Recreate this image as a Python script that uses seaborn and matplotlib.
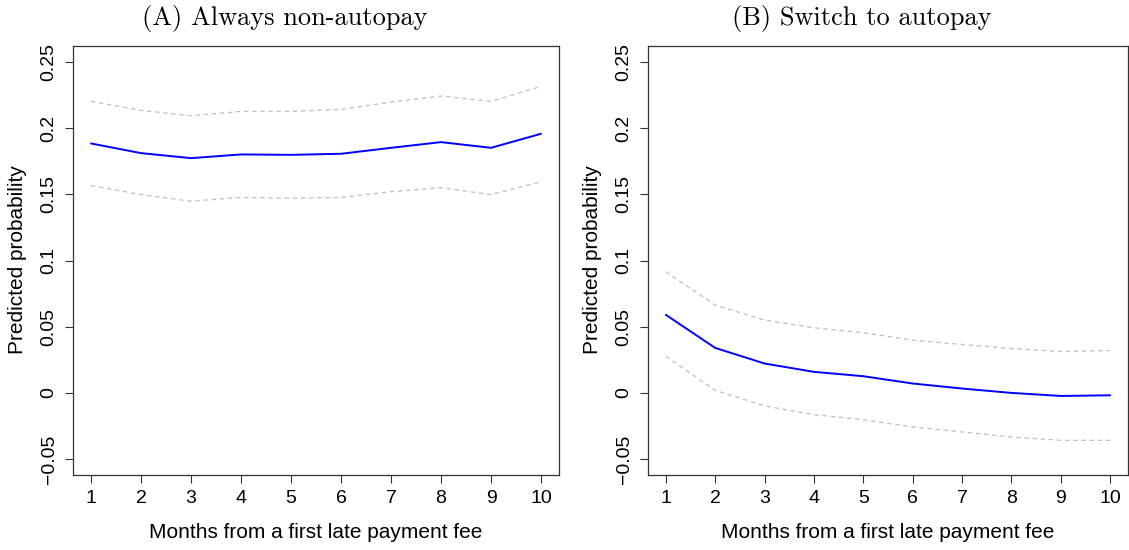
import numpy as np
import pandas as pd
import matplotlib
matplotlib.use("Agg")
import matplotlib.pyplot as plt
import seaborn as sns

months = [1, 2, 3, 4, 5, 6, 7, 8, 9, 10]

a_est = [0.1884, 0.1811, 0.1773, 0.1801, 0.1798, 0.1806, 0.1851, 0.1894, 0.1851, 0.1957]
a_upper = [0.2202, 0.2134, 0.2093, 0.2126, 0.2126, 0.2141, 0.2197, 0.2242, 0.2202, 0.2315]
a_lower = [0.1566, 0.1498, 0.1448, 0.1476, 0.1470, 0.1476, 0.1520, 0.1549, 0.1498, 0.1594]

b_est = [0.0590, 0.0340, 0.0222, 0.0159, 0.0126, 0.0071, 0.0033, 0.0000, -0.0023, -0.0018]
b_upper = [0.0915, 0.0663, 0.0550, 0.0492, 0.0454, 0.0398, 0.0366, 0.0335, 0.0313, 0.0320]
b_lower = [0.0277, 0.0020, -0.0098, -0.0164, -0.0202, -0.0257, -0.0295, -0.0333, -0.0358, -0.0358]

titles = ["(A) Always non-autopay", "(B) Switch to autopay"]
yticks = [-0.05, 0, 0.05, 0.1, 0.15, 0.2, 0.25]
ytick_labels = ["\u22120.05", "0", "0.05", "0.1", "0.15", "0.2", "0.25"]
xlabel = "Months from a first late payment fee"
ylabel = "Predicted probability"

sns.set_style("ticks")
plt.rcParams['font.family'] = ['Liberation Sans', 'DejaVu Sans']
plt.rcParams['text.color'] = 'black'
plt.rcParams['xtick.color'] = 'black'
plt.rcParams['ytick.color'] = 'black'

fig = plt.figure(figsize=(11.29, 5.5), dpi=100)
ax_a = fig.add_axes([73/1129, 75/550, 486/1129, 429/550])
ax_b = fig.add_axes([648/1129, 75/550, 480/1129, 429/550])

panels = [(ax_a, a_est, a_upper, a_lower), (ax_b, b_est, b_upper, b_lower)]
title_x = [285/1129, 862/1129]
ylabel_x = [18/1129, 593/1129]
xlabel_x = [316/1129, 888/1129]

for i, (ax, est, up, lo) in enumerate(panels):
    df = pd.DataFrame({"month": months, "est": est, "upper": up, "lower": lo})
    sns.lineplot(data=df, x="month", y="upper", ax=ax, color="#bfbfbf", lw=0.9,
                 linestyle=(0, (3.5, 3)))
    sns.lineplot(data=df, x="month", y="lower", ax=ax, color="#bfbfbf", lw=0.9,
                 linestyle=(0, (3.5, 3)))
    sns.lineplot(data=df, x="month", y="est", ax=ax, color="#0000ff", lw=1.4)
    ax.set_xlim(0.64, 10.36)
    ax.set_ylim(-0.062, 0.262)
    ax.set_xticks(months)
    ax.set_xticklabels([str(m) for m in months], fontsize=14)
    ax.set_yticks(yticks)
    ax.set_yticklabels(ytick_labels, fontsize=14, rotation=90, va="center")
    ax.tick_params(axis="both", direction="out", length=6, width=0.8, color="#333333", pad=5)
    ax.tick_params(axis="x", pad=5)
    for s in ax.spines.values():
        s.set_visible(True)
        s.set_color("#333333")
        s.set_linewidth(0.9)
    ax.set_xlabel("")
    ax.set_ylabel("")
    fig.text(ylabel_x[i], 1 - 260/550, ylabel, rotation=90,
             fontsize=15, ha="center", va="center")
    fig.text(xlabel_x[i], 1 - 532/550, xlabel,
             fontsize=15, ha="center", va="center")
    fig.text(title_x[i], 1 - 19/550, titles[i], fontsize=19, family="cmr10",
             ha="center", va="center")

fig.savefig("out.png", dpi=100)
